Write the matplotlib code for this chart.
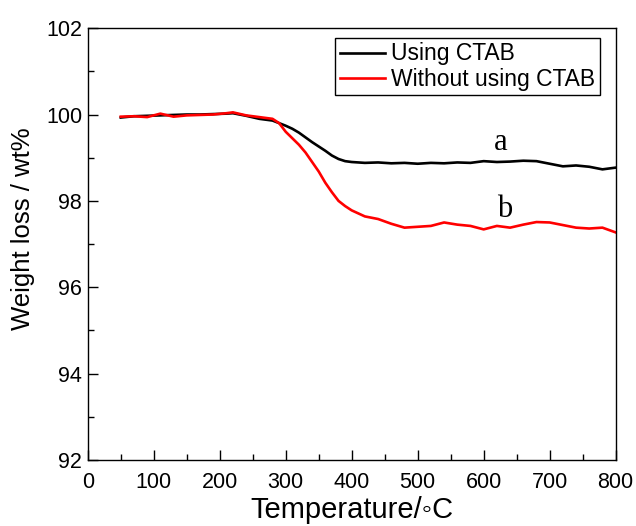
import matplotlib
matplotlib.use("Agg")
import matplotlib.pyplot as plt
from matplotlib.ticker import MultipleLocator

plt.rcParams['font.family'] = ['Liberation Sans', 'DejaVu Sans']

temp = [50, 70, 90, 110, 130, 150, 170, 190, 210, 220, 240, 260, 280, 290, 300,
        310, 320, 330, 340, 350, 360, 370, 380, 390, 400, 420, 440, 460, 480, 500,
        520, 540, 560, 580, 600, 620, 640, 660, 680, 700, 720, 740, 760, 780, 800]

# curve a - using CTAB
w_ctab = [99.93, 99.96, 99.97, 99.98, 99.99, 100.0, 100.0, 100.01, 100.02, 100.03,
          99.97, 99.90, 99.86, 99.80, 99.74, 99.67, 99.58, 99.47, 99.36, 99.26,
          99.16, 99.05, 98.97, 98.92, 98.90, 98.88, 98.89, 98.87, 98.88, 98.86,
          98.88, 98.87, 98.89, 98.88, 98.92, 98.90, 98.91, 98.93, 98.92, 98.86,
          98.80, 98.82, 98.79, 98.73, 98.77]

# curve b - without CTAB
w_none = [99.95, 99.96, 99.94, 100.02, 99.95, 99.98, 99.99, 100.0, 100.03, 100.05,
          99.98, 99.94, 99.90, 99.80, 99.60, 99.45, 99.30, 99.12, 98.90, 98.68,
          98.42, 98.20, 98.00, 97.88, 97.78, 97.64, 97.58, 97.47, 97.38, 97.40,
          97.42, 97.50, 97.45, 97.42, 97.34, 97.42, 97.38, 97.45, 97.51, 97.50,
          97.44, 97.38, 97.36, 97.38, 97.27]

fig = plt.figure(figsize=(6.36, 5.26), dpi=100)
ax = fig.add_axes([0.138, 0.1255, 0.830, 0.821])

ax.plot(temp, w_ctab, color='black', lw=1.9, label='Using CTAB')
ax.plot(temp, w_none, color='#ff0000', lw=1.9, label='Without using CTAB')

ax.set_xlim(0, 800)
ax.set_ylim(92, 102)
ax.xaxis.set_major_locator(MultipleLocator(100))
ax.xaxis.set_minor_locator(MultipleLocator(50))
ax.yaxis.set_major_locator(MultipleLocator(2))
ax.yaxis.set_minor_locator(MultipleLocator(1))
ax.tick_params(which='both', direction='in', top=False, right=False, labelsize=15.5, width=1)
ax.tick_params(axis='x', pad=9)
ax.tick_params(axis='y', pad=4)
ax.tick_params(which='major', length=7)
ax.tick_params(which='minor', length=4)
for s in ax.spines.values():
    s.set_linewidth(1)

ax.set_xlabel('Temperature/\u25e6C', fontsize=21, labelpad=2)
ax.set_ylabel('Weight loss / wt%', fontsize=18.5)
ax.yaxis.set_label_coords(-0.100, 0.536)

ax.text(626, 99.18, 'a', fontsize=22, family='Liberation Serif', ha='center', va='baseline')
ax.text(632, 97.63, 'b', fontsize=22, family='Liberation Serif', ha='center', va='baseline')

leg = ax.legend(loc='upper right', bbox_to_anchor=(0.970, 0.9775), fontsize=16.5,
                frameon=True, fancybox=False, edgecolor='black', framealpha=1,
                handlelength=2.0, handletextpad=0.25, borderpad=0.2, labelspacing=0.1,
                borderaxespad=0, handleheight=0.6)
leg.get_frame().set_linewidth(1)

fig.savefig('out.png', dpi=100)
